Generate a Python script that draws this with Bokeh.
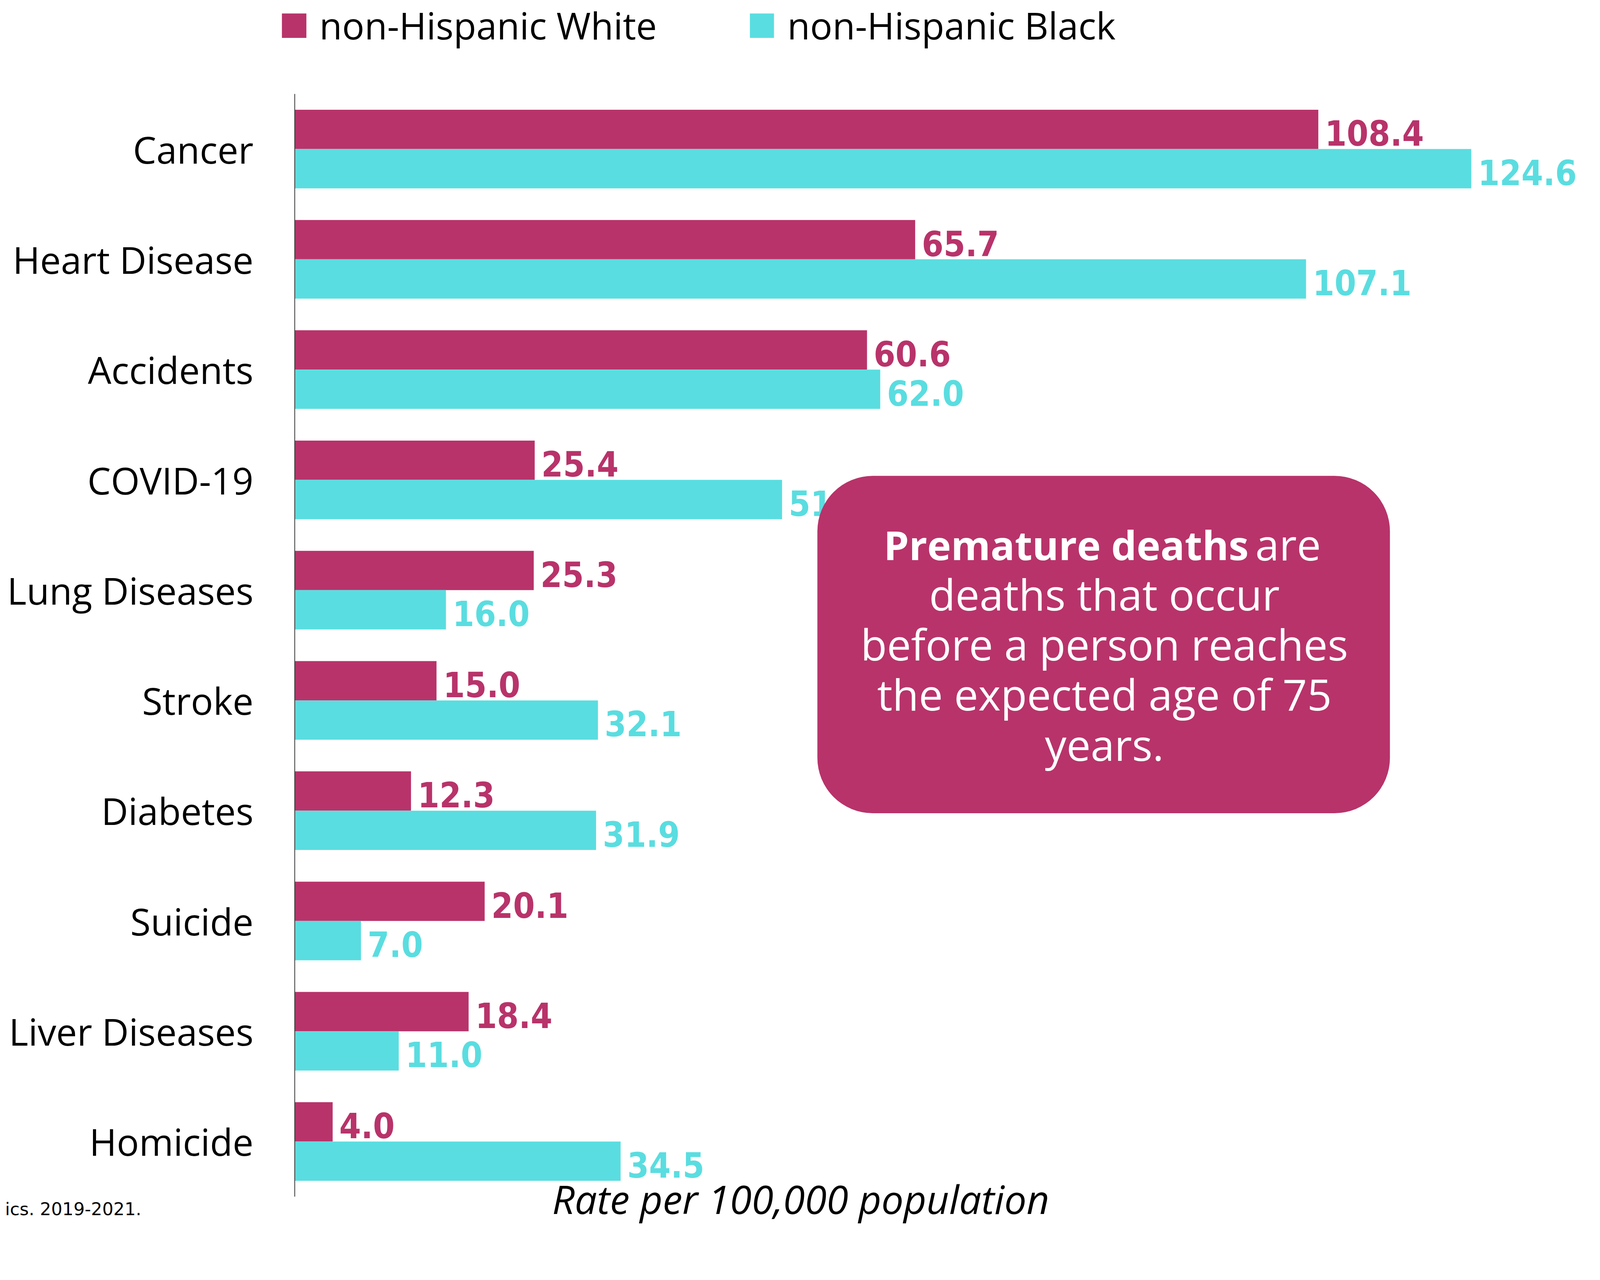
from bokeh.plotting import figure
from bokeh.models import Range1d, BoxAnnotation, Label, ColumnDataSource, FixedTicker
from bokeh.transform import dodge
from bokeh.core.properties import value
from bokeh.embed import file_html
from bokeh.resources import INLINE

categories = ["Cancer", "Heart Disease", "Accidents", "COVID-19", "Lung Diseases",
              "Stroke", "Diabetes", "Suicide", "Liver Diseases", "Homicide"]
white_rates = [108.4, 65.7, 60.6, 25.4, 25.3, 15.0, 12.3, 20.1, 18.4, 4.0]
black_rates = [124.6, 107.1, 62.0, 51.6, 16.0, 32.1, 31.9, 7.0, 11.0, 34.5]
series_names = ["non-Hispanic White", "non-Hispanic Black"]
x_title = "Rate per 100,000 population"
note_bold = "Premature deaths"
note_lines = ["are", "deaths that occur", "before a person reaches",
              "the expected age of 75", "years."]
footer = "ics. 2019-2021."

WHITE_C = "#B8336A"
BLACK_C = "#5ADDE0"
BODY_FONT = "Open Sans"
NUM_FONT = "DejaVu Sans Condensed"

# geometry: target picture pixels -> canvas pixels
SC = 1.0534
def cx(img):
    return img / SC + 2.56

CW = round(cx(4292))
CH = round(cx(3277)) + 30
AXIS_X = cx(792)
n = len(categories)
row_px = (3224 - 250) / SC / n
px_per_unit = 25.46 / SC
top_extra = cx(250) / row_px
bot_extra = (CH - cx(3224)) / row_px

def fx(img_x):
    return cx(img_x)

def fy(img_y):
    return CH - cx(img_y)

ypos = [n - 1 - i for i in range(n)]
src = ColumnDataSource(dict(
    y=ypos,
    white=white_rates,
    black=black_rates,
    wlab=["%.1f" % v for v in white_rates],
    blab=["%.1f" % v for v in black_rates],
))

p = figure(width=CW, height=CH, output_backend="svg", toolbar_location=None,
           title=None,
           y_range=Range1d(-0.5 - bot_extra, n - 0.5 + top_extra),
           x_range=Range1d(-AXIS_X / px_per_unit, (CW - AXIS_X) / px_per_unit),
           min_border_left=0, min_border_top=0, min_border_bottom=0,
           min_border_right=0)
p.outline_line_color = None
p.background_fill_color = "white"
p.border_fill_color = "white"
p.xgrid.visible = False
p.ygrid.visible = False
p.xaxis.visible = False

ax = p.yaxis[0]
ax.fixed_location = 0
ax.ticker = FixedTicker(ticks=ypos)
ax.major_label_overrides = {y: c for y, c in zip(ypos, categories)}
ax.bounds = (-0.5, n - 0.5)
ax.axis_line_color = "#333333"
ax.axis_line_width = 2
ax.major_tick_line_color = None
ax.minor_tick_line_color = None
ax.major_tick_out = 0
ax.major_tick_in = 0
ax.major_label_standoff = 106
ax.major_label_text_font = BODY_FONT
ax.major_label_text_font_size = "95px"
ax.major_label_text_color = "black"

bh = 212 / SC / row_px / 2
off = bh / 2
p.hbar(y=dodge("y", off), right="white", left=0, height=bh,
       source=src, fill_color=WHITE_C, line_color=None)
p.hbar(y=dodge("y", -off), right="black", left=0, height=bh,
       source=src, fill_color=BLACK_C, line_color=None)

lab_kw = dict(x_offset=17, y_offset=9, text_baseline="middle", text_align="left",
              text_font=value(NUM_FONT), text_font_style="bold",
              text_font_size="89px")
p.text(x="white", y=dodge("y", off), text="wlab", source=src,
       text_color=WHITE_C, **lab_kw)
p.text(x="black", y=dodge("y", -off), text="blab", source=src,
       text_color=BLACK_C, **lab_kw)

def sbox(l, r, t, b, color, radius=0):
    return BoxAnnotation(left=fx(l), right=fx(r), top=fy(t), bottom=fy(b),
                         left_units="screen", right_units="screen",
                         bottom_units="screen", top_units="screen",
                         fill_color=color, fill_alpha=1.0, line_color=None,
                         border_radius=int(round(radius)), level="annotation")

def slabel(img_x, img_y, text, **kw):
    opts = dict(x_units="screen", y_units="screen", text_font=BODY_FONT,
                text_font_size="95px", text_color="black",
                text_baseline="middle", text_align="left")
    opts.update(kw)
    return Label(x=fx(img_x), y=fy(img_y), text=text, **opts)

# legend (picture-pixel positions)
p.add_layout(sbox(757, 823, 33, 99, WHITE_C))
p.add_layout(slabel(858, 64, series_names[0]))
p.add_layout(sbox(2019, 2084, 33, 99, BLACK_C))
p.add_layout(slabel(2120, 64, series_names[1]))

# note box
p.add_layout(sbox(2201, 3745, 1280, 2190, WHITE_C, radius=150 / SC))
p.add_layout(slabel(3364, 1465, note_bold, text_align="right", text_color="white",
                    text_font_style="bold", text_font_size="103px"))
p.add_layout(slabel(3382, 1463, note_lines[0], text_color="white",
                    text_font_size="110px"))
for i, line in enumerate(note_lines[1:]):
    p.add_layout(slabel(2975, 1598 + 135 * i, line, text_align="center",
                        text_color="white", text_font_size="110px"))

# axis title and footer
p.add_layout(slabel(2156, 3230, x_title, text_align="center",
                    text_font_style="italic", text_font_size="101px"))
p.add_layout(slabel(378, 3258, footer, text_align="right",
                    text_font="DejaVu Sans", text_font_size="45px"))

open("out.html", "w").write(file_html(p, INLINE))
